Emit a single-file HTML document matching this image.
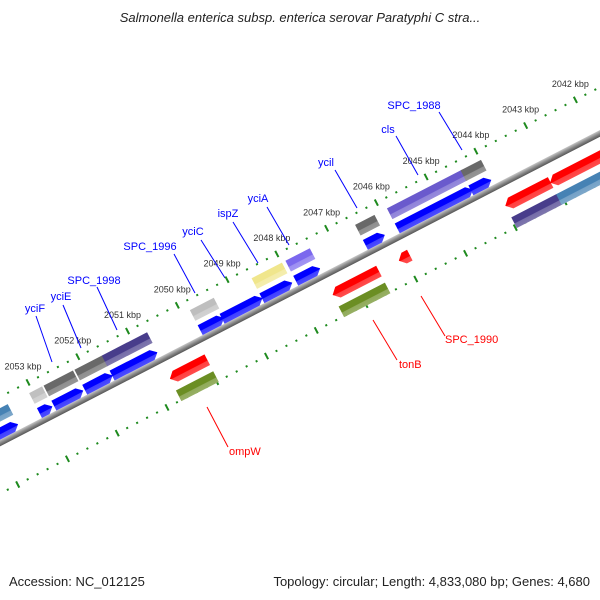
<!DOCTYPE html>
<html><head><meta charset="utf-8"><style>
body{margin:0;background:#fff}
svg{display:block;font-family:"Liberation Sans",sans-serif}
</style></head><body>
<svg id="chart" width="600" height="600" viewBox="0 0 600 600">
<defs>
<linearGradient id="bb" x1="0" y1="0" x2="0" y2="1"><stop offset="0" stop-color="#c8c8c8"/><stop offset="0.5" stop-color="#8a8a8a"/><stop offset="1" stop-color="#555"/></linearGradient>
<linearGradient id="shade" x1="0" y1="0" x2="0" y2="1"><stop offset="0" stop-color="#fff" stop-opacity="0.0"/><stop offset="0.55" stop-color="#fff" stop-opacity="0.0"/><stop offset="0.6" stop-color="#fff" stop-opacity="0.25"/><stop offset="1" stop-color="#fff" stop-opacity="0.3"/></linearGradient>
</defs>
<text x="300" y="22" text-anchor="middle" font-size="13" font-style="italic" fill="#222">Salmonella enterica subsp. enterica serovar Paratyphi C stra...</text>
<g id="labels"></g>
<g id="band" transform="translate(0,443) rotate(-27.3)"></g>
<text x="9" y="586" font-size="13" fill="#222">Accession: NC_012125</text>
<text x="590" y="586" font-size="13" fill="#222" text-anchor="end">Topology: circular; Length: 4,833,080 bp; Genes: 4,680</text>
</svg>
<script>
const tickKbp = [2042,2043,2044,2045,2046,2047,2048,2049,2050,2051,2052,2053];
const fwdStart = [2054.0,2053.07,2052.78,2052.16,2051.61,2049.84,2049.40,2048.60,2047.92,2046.52,2045.88,2044.40];
const fwdEnd   = [2053.5,2052.81,2052.19,2051.60,2050.70,2049.36,2048.59,2047.99,2047.43,2046.13,2044.36,2043.99];
const fwdCog   = ["#4682b4","#c0c0c0","#696969","#696969","#483d8b","#bebebe","","#f0e68c","#7b68ee","#696969","#6a5acd","#696969"];
const revStart = [2050.72,2047.45,2046.12,2043.98,2043.08,2042.02];
const revEnd   = [2049.97,2046.52,2045.90,2043.07,2042.00,2041.4];
const revCog   = ["#6b8e23","#6b8e23","","#483d8b","#4682b4",""];
const fwdNames = ["yciF","yciE","SPC_1998","SPC_1996","yciC","ispZ","yciA","ycil","cls","SPC_1988"];
const revNames = ["ompW","tonB","SPC_1990"];

const NS="http://www.w3.org/2000/svg";
const band=document.getElementById('band'), lab=document.getElementById('labels');
const C=Math.cos(27.3*Math.PI/180), S=Math.sin(27.3*Math.PI/180);
function uOf(k){return 164.7-56*(k-2051);}
function toScreen(u,v){return [u*C+v*S, 443-u*S+v*C];}
function mk(tag,attrs,parent){const e=document.createElementNS(NS,tag);for(const k in attrs)e.setAttribute(k,attrs[k]);parent.appendChild(e);return e;}

// backbone
let bb=mk('rect',{x:-60,y:-3,width:900,height:6,fill:'url(#bb)'},band);



// tick lines
[-41,45].forEach((v,ri)=>{
  for(let k=2054.2;k>=2040.8;k-=0.2){
    const kk=Math.round(k*10)/10, u=uOf(kk);
    if(Math.abs(kk-Math.round(kk))<0.01){
      const t=mk('rect',{x:u-1,y:v-3.5,width:2,height:7,fill:'#1e8a1e'},band);
      
      
    } else {
      const d=mk('rect',{x:u-1,y:v-1,width:2,height:2,fill:'#1e8a1e'},band);
      
      
    }
  }
});
tickKbp.forEach(k=>{
  const p=toScreen(uOf(k),-41);
  const t=mk('text',{x:p[0]-5,y:p[1]-13,'text-anchor':'middle','font-size':9,fill:'#333'},lab);
  t.textContent=k+' kbp';
  
  
});

function bar(u1,u2,v0,h,color,dir,name){
  // u1<u2
  const head = dir===0?0:Math.min(6,(u2-u1)*0.5);
  let pts;
  if(dir>0) pts=[[u1,v0],[u2-head,v0],[u2,v0+h/2],[u2-head,v0+h],[u1,v0+h]];
  else if(dir<0) pts=[[u1+head,v0],[u2,v0],[u2,v0+h],[u1+head,v0+h],[u1,v0+h/2]];
  else pts=[[u1,v0],[u2,v0],[u2,v0+h],[u1,v0+h]];
  const s=pts.map(p=>p.join(',')).join(' ');
  const g=mk('g',{},band);
  
  
  mk('polygon',{points:s,fill:color},g);
  mk('polygon',{points:s,fill:'url(#shade)'},g);
}
for(let i=0;i<fwdStart.length;i++){
  const u1=uOf(fwdStart[i]),u2=uOf(fwdEnd[i]);
  bar(u1,u2,-14,11,'#0000ff',1,'forward-cds');
  if(fwdCog[i]) bar(u1,u2,-31,12,fwdCog[i],0,'forward-cog-box');
}
for(let i=0;i<revStart.length;i++){
  const u1=uOf(revStart[i]),u2=uOf(revEnd[i]);
  bar(u1,u2,15,12,'#ff0000',-1,'reverse-cds');
  if(revCog[i]) bar(u1,u2,34,12,revCog[i],0,'reverse-cog-box');
}

// gene labels (screen coords)
const fwdLab=[[35,312,36,316,52,362],[61,300,63,305,81,348],[94,284,97,287,117,330],[150,250,174,254,195,293],[193,235,201,240,225,278],[228,217,233,222,258,263],[258,202,267,207,289,245],[326,166,335,170,357,208],[388,133,396,136,418,175],[414,109,439,112,462,150]];
fwdLab.forEach((a,i)=>{
  const l=mk('line',{x1:a[2],y1:a[3],x2:a[4],y2:a[5],stroke:'#0000ff','stroke-width':1},lab);
  
  
  const t=mk('text',{x:a[0],y:a[1],'text-anchor':'middle','font-size':11,fill:'#0000ff'},lab);
  t.textContent=fwdNames[i];
  
  
});
const revLab=[[229,455,207,407,228,447],[399,368,373,320,397,360],[445,343,421,296,445,336]];
revLab.forEach((a,i)=>{
  const l=mk('line',{x1:a[2],y1:a[3],x2:a[4],y2:a[5],stroke:'#ff0000','stroke-width':1},lab);
  
  
  const t=mk('text',{x:a[0],y:a[1],'font-size':11,fill:'#ff0000'},lab);
  t.textContent=revNames[i];
  
  
});
</script>
</body></html>
